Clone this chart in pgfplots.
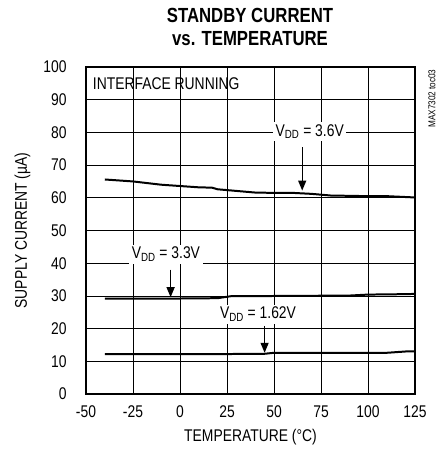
\documentclass[border=0pt]{standalone}
\usepackage{fontspec}
\setmainfont{Liberation Sans}[FakeStretch=0.82]
\usepackage{pgfplots}
\pgfplotsset{compat=1.18}
\usetikzlibrary{arrows.meta}
\begin{document}
\begin{tikzpicture}[x=1bp,y=1bp]
\useasboundingbox (0,0) rectangle (439,458);
\node[align=center,font=\fontsize{20.5}{23}\selectfont\bfseries] at (250,431) {STANDBY CURRENT\\vs. TEMPERATURE};
\begin{axis}[
  at={(86bp,64bp)}, anchor=south west,
  scale only axis, width=329bp, height=327bp,
  xmin=-50, xmax=125, ymin=0, ymax=100,
  xtick={-50,-25,...,125}, ytick={0,10,...,100},
  grid=major, major grid style={black, line width=0.6pt},
  major tick length=0pt,
  axis line style={line width=1.8pt},
  tick label style={font=\fontsize{17}{19}\selectfont},
  /pgf/number format/assume math mode=true,
  xticklabel style={yshift=-8bp},
  yticklabel style={xshift=-16bp},
  xlabel={TEMPERATURE (°C)}, ylabel={SUPPLY CURRENT (µA)},
  label style={font=\fontsize{17}{19}\selectfont},
  xlabel style={yshift=-5bp},
  ylabel style={yshift=6bp},
  clip=false,
]
\addplot[black, line width=2pt] coordinates {
(-40,65.6) (-25,65) (-10,64) (0,63.6) (10,63.2) (17,63.1) (20,62.6) (30,62.1) (40,61.6) (50,61.5) (60,61.5) (70,61.2) (80,60.7) (90,60.6) (100,60.5) (110,60.5) (125,60.1)};
\addplot[black, line width=2pt] coordinates {
(-40,29.2) (0,29.2) (20,29.3) (27,29.9) (60,30) (90,30.1) (100,30.4) (115,30.5) (125,30.6)};
\addplot[black, line width=2pt] coordinates {
(-40,12.2) (20,12.2) (45,12.3) (50,12.6) (80,12.6) (110,12.6) (120,13.0) (125,13.0)};
\node[anchor=west, font=\fontsize{17}{19}\selectfont] at (axis cs:-48.2,95) {INTERFACE RUNNING};
\node[fill=white, inner sep=2.5bp, font=\fontsize{17}{19}\selectfont] at (axis cs:69,80.3) {V\textsubscript{DD} = 3.6V};
\node[fill=white, inner sep=2.5bp, font=\fontsize{17}{19}\selectfont] at (axis cs:-7.5,42.7) {V\textsubscript{DD} = 3.3V};
\node[fill=white, inner sep=2.5bp, font=\fontsize{17}{19}\selectfont] at (axis cs:41.5,24.4) {V\textsubscript{DD} = 1.62V};
\draw[line width=1.3pt, -{Triangle[length=10bp,width=8bp]}] (axis cs:65,75.5) -- (axis cs:65,62.2);
\draw[line width=1.3pt, -{Triangle[length=10bp,width=8bp]}] (axis cs:-5,38) -- (axis cs:-5,29.6);
\draw[line width=1.3pt, -{Triangle[length=10bp,width=8bp]}] (axis cs:45,20.8) -- (axis cs:45,12.6);
\node[rotate=90, anchor=east, font=\fontsize{10}{11}\selectfont] at (axis cs:134,100.3) {MAX7302 toc03};
\end{axis}
\end{tikzpicture}
\end{document}
